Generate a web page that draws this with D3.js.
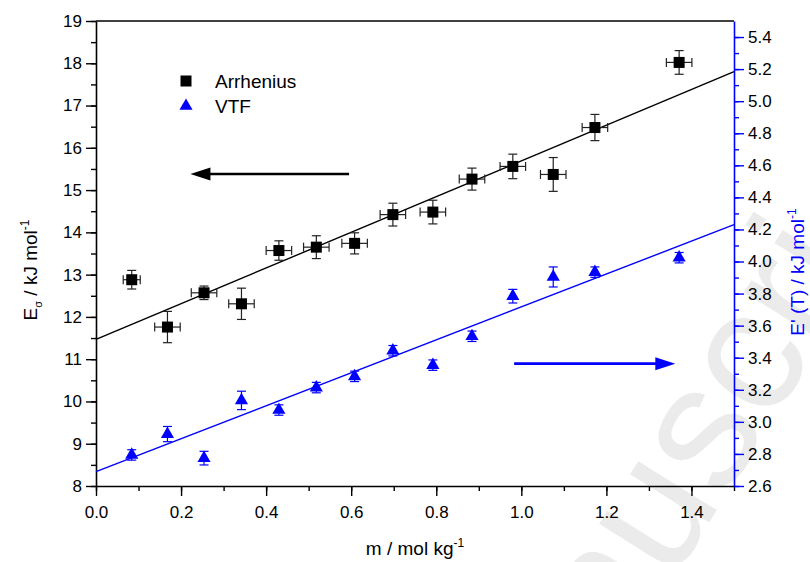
<!DOCTYPE html>
<html>
<head>
<meta charset="utf-8">
<script src="https://cdn.jsdelivr.net/npm/d3@7"></script>
<style>
  body { margin: 0; background: #fff; }
  svg text { font-family: "Liberation Sans", Arial, sans-serif; }
</style>
</head>
<body>
<script>
// molality (x) and its error
const molality = [0.084, 0.168, 0.254, 0.342, 0.430, 0.518, 0.608, 0.698, 0.792, 0.884, 0.980, 1.075, 1.173, 1.371];
const molalityErr = [0.02, 0.03, 0.03, 0.03, 0.03, 0.03, 0.03, 0.03, 0.03, 0.03, 0.03, 0.03, 0.03, 0.03];

// Arrhenius activation energy (left axis)
const arrhenius = [12.88, 11.76, 12.57, 12.31, 13.57, 13.65, 13.74, 14.42, 14.48, 15.26, 15.56, 15.37, 16.48, 18.02];
const arrheniusErr = [0.22, 0.37, 0.16, 0.37, 0.23, 0.27, 0.25, 0.27, 0.28, 0.26, 0.29, 0.40, 0.31, 0.28];

// VTF pseudo activation energy (right axis)
const vtf = [2.80, 2.93, 2.78, 3.14, 3.08, 3.22, 3.29, 3.45, 3.36, 3.54, 3.79, 3.91, 3.94, 4.03];
const vtfErr = [0.02, 0.035, 0.03, 0.045, 0.02, 0.02, 0.02, 0.02, 0.02, 0.02, 0.03, 0.05, 0.02, 0.02];

// linear fits, values at x = 0 and x = 1.5
const fitX = [0, 1.5];
const arrheniusFit = [11.47, 17.80];
const vtfFit = [2.69, 4.23];

// tick labels
const xTicks = [0.0, 0.2, 0.4, 0.6, 0.8, 1.0, 1.2, 1.4];
const leftTicks = [8, 9, 10, 11, 12, 13, 14, 15, 16, 17, 18, 19];
const rightTicks = [2.6, 2.8, 3.0, 3.2, 3.4, 3.6, 3.8, 4.0, 4.2, 4.4, 4.6, 4.8, 5.0, 5.2, 5.4];

const W = 810, H = 562;
const m = { left: 96, right: 76, top: 21, bottom: 76 };

const svg = d3.select('body').append('svg')
    .attr('width', W)
    .attr('height', H);

const x = d3.scaleLinear().domain([0, 1.5]).range([m.left, W - m.right]);
const yL = d3.scaleLinear().domain([8, 19]).range([H - m.bottom, m.top]);
const yR = d3.scaleLinear().domain([2.6, 5.5]).range([H - m.bottom, m.top]);

// faint watermark, mostly off the page
svg.append('text')
    .attr('transform', 'translate(620,665) rotate(-58)')
    .attr('font-size', 175)
    .attr('fill', '#ebebeb')
    .text('nuscri');

const blue = '#0000ff';

// frame top
svg.append('line')
    .attr('x1', x(0)).attr('x2', x(1.5))
    .attr('y1', m.top).attr('y2', m.top)
    .attr('stroke', '#000').attr('stroke-width', 1.6);

// axes
function styleAxis(g, color) {
    g.select('.domain').attr('stroke', color).attr('stroke-width', 1.6);
    g.selectAll('.tick line').attr('stroke', color).attr('stroke-width', 1.4);
    g.selectAll('.tick text').attr('fill', '#000').attr('font-size', 17);
}

const gx = svg.append('g').attr('transform', `translate(0,${H - m.bottom})`);
gx.call(d3.axisBottom(x).tickValues(d3.range(0, 1.51, 0.1)).tickSize(5).tickFormat('').tickSizeOuter(0));
gx.append('g').call(d3.axisBottom(x).tickValues(xTicks).tickSize(10).tickPadding(10).tickFormat(d3.format('.1f')))
    .call(g => g.select('.domain').remove());
styleAxis(gx, '#000');

const gl = svg.append('g').attr('transform', `translate(${m.left},0)`);
gl.call(d3.axisLeft(yL).tickValues(d3.range(8, 19.01, 0.5)).tickSize(5).tickFormat('').tickSizeOuter(0));
gl.append('g').call(d3.axisLeft(yL).tickValues(leftTicks).tickSize(10).tickPadding(4).tickFormat(d3.format('d')))
    .call(g => g.select('.domain').remove());
styleAxis(gl, '#000');

const gr = svg.append('g').attr('transform', `translate(${W - m.right},0)`);
gr.call(d3.axisRight(yR).tickValues(d3.range(2.6, 5.45, 0.1)).tickSize(5).tickFormat('').tickSizeOuter(0));
gr.append('g').call(d3.axisRight(yR).tickValues(rightTicks).tickSize(10).tickPadding(4).tickFormat(d3.format('.1f')))
    .call(g => g.select('.domain').remove());
styleAxis(gr, blue);

// axis titles
svg.append('text')
    .attr('x', x(0.75)).attr('y', 555)
    .attr('text-anchor', 'middle').attr('font-size', 19)
    .text('m / mol kg')
    .append('tspan').attr('dy', -8).attr('font-size', 12).text('-1');

const lt = svg.append('text')
    .attr('transform', 'translate(37,270) rotate(-90)')
    .attr('text-anchor', 'middle').attr('font-size', 19);
lt.append('tspan').text('E');
lt.append('tspan').attr('dy', 5).attr('font-size', 11).text('σ');
lt.append('tspan').attr('dy', -5).text('  / kJ mol');
lt.append('tspan').attr('dy', -8).attr('font-size', 12).text('-1');

const rt = svg.append('text')
    .attr('transform', 'translate(804,272) rotate(-90)')
    .attr('text-anchor', 'middle').attr('font-size', 19).attr('fill', blue);
rt.append('tspan').text("E'  (T) / kJ mol");
rt.append('tspan').attr('dy', -8).attr('font-size', 12).text('-1');

// fit lines
const line = d3.line();
svg.append('path')
    .attr('d', line(fitX.map((v, i) => [x(v), yL(arrheniusFit[i])])))
    .attr('stroke', '#000').attr('stroke-width', 1.4).attr('fill', 'none');
svg.append('path')
    .attr('d', line(fitX.map((v, i) => [x(v), yR(vtfFit[i])])))
    .attr('stroke', blue).attr('stroke-width', 1.4).attr('fill', 'none');

// error bars for Arrhenius
const cap = 4.5;
const eb = svg.append('g').attr('stroke', '#222').attr('stroke-width', 1.2);
molality.forEach((mv, i) => {
    const cx = x(mv), cy = yL(arrhenius[i]);
    const y1 = yL(arrhenius[i] + arrheniusErr[i]), y2 = yL(arrhenius[i] - arrheniusErr[i]);
    const x1 = x(mv - molalityErr[i]), x2 = x(mv + molalityErr[i]);
    eb.append('line').attr('x1', cx).attr('x2', cx).attr('y1', y1).attr('y2', y2);
    eb.append('line').attr('x1', cx - cap).attr('x2', cx + cap).attr('y1', y1).attr('y2', y1);
    eb.append('line').attr('x1', cx - cap).attr('x2', cx + cap).attr('y1', y2).attr('y2', y2);
    eb.append('line').attr('x1', x1).attr('x2', x2).attr('y1', cy).attr('y2', cy);
    eb.append('line').attr('x1', x1).attr('x2', x1).attr('y1', cy - cap).attr('y2', cy + cap);
    eb.append('line').attr('x1', x2).attr('x2', x2).attr('y1', cy - cap).attr('y2', cy + cap);
});

// error bars for VTF
const ebv = svg.append('g').attr('stroke', blue).attr('stroke-width', 1.2);
molality.forEach((mv, i) => {
    const cx = x(mv);
    const y1 = yR(vtf[i] + vtfErr[i]), y2 = yR(vtf[i] - vtfErr[i]);
    ebv.append('line').attr('x1', cx).attr('x2', cx).attr('y1', y1 - 1).attr('y2', y2 + 3);
    ebv.append('line').attr('x1', cx - cap).attr('x2', cx + cap).attr('y1', y1 - 1).attr('y2', y1 - 1);
    ebv.append('line').attr('x1', cx - cap).attr('x2', cx + cap).attr('y1', y2 + 3).attr('y2', y2 + 3);
});

// markers
const sq = 11;
svg.append('g').selectAll('rect')
    .data(molality)
    .join('rect')
    .attr('x', d => x(d) - sq / 2)
    .attr('y', (d, i) => yL(arrhenius[i]) - sq / 2)
    .attr('width', sq).attr('height', sq)
    .attr('fill', '#000');

const tri = d3.symbol().type(d3.symbolTriangle).size(75);
svg.append('g').selectAll('path')
    .data(molality)
    .join('path')
    .attr('d', tri)
    .attr('transform', (d, i) => `translate(${x(d)},${yR(vtf[i]) + 1})`)
    .attr('fill', blue);

// legend
const lg = svg.append('g');
lg.append('rect').attr('x', 186 - sq / 2).attr('y', 81 - sq / 2).attr('width', sq).attr('height', sq).attr('fill', '#000');
lg.append('path').attr('d', tri).attr('transform', 'translate(186,106)').attr('fill', blue);
lg.append('text').attr('x', 215).attr('y', 88).attr('font-size', 19).text('Arrhenius');
lg.append('text').attr('x', 215).attr('y', 113).attr('font-size', 19).text('VTF');

// arrows
const arrowY = [15.38, 3.363];
const arrowL = [0.595, 0.222];
const arrowR = [0.983, 1.362];
function arrow(x1, x2, yy, color) {
    const dir = Math.sign(x2 - x1);
    svg.append('line')
        .attr('x1', x1).attr('x2', x2 - dir * 16).attr('y1', yy).attr('y2', yy)
        .attr('stroke', color).attr('stroke-width', 2.6);
    svg.append('path')
        .attr('d', `M${x2},${yy} L${x2 - dir * 20},${yy - 6.5} L${x2 - dir * 20},${yy + 6.5} Z`)
        .attr('fill', color);
}
arrow(x(arrowL[0]), x(arrowL[1]), yL(arrowY[0]), '#000');
arrow(x(arrowR[0]), x(arrowR[1]), yR(arrowY[1]), blue);
</script>
</body>
</html>
